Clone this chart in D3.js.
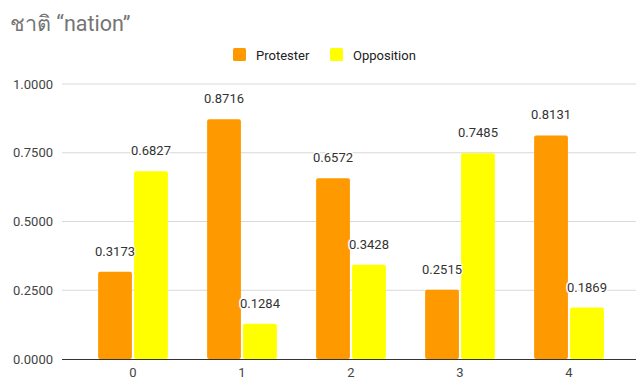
<!DOCTYPE html>
<html>
<head>
<meta charset="utf-8">
<script src="https://cdn.jsdelivr.net/npm/d3@7"></script>
<style>
  html, body { margin: 0; padding: 0; background: #fff; }
  svg { display: block; font-family: Roboto, "Noto Sans", Arial, sans-serif; }
</style>
</head>
<body>
<svg id="chart" width="636" height="380"></svg>
<script>
// Share of "nation" mentions by topic cluster
const categories = ["0", "1", "2", "3", "4"];
const seriesNames = ["Protester", "Opposition"];
const protester = [0.3173, 0.8716, 0.6572, 0.2515, 0.8131];
const opposition = [0.6827, 0.1284, 0.3428, 0.7485, 0.1869];
const yTicks = [0, 0.25, 0.5, 0.75, 1.0];
const colors = ["#ff9900", "#ffff00"];

const svg = d3.select("#chart");
const W = 636, H = 380;
const plot = { left: 78.5, right: 623.5, top: 84, bottom: 359 };

const rows = categories.map((c, i) => ({ cat: c, values: [protester[i], opposition[i]] }));

const x = d3.scaleBand().domain(categories).range([plot.left, plot.right]).paddingInner(0.36).paddingOuter(0.18);
const xs = d3.scaleBand().domain(seriesNames).range([0, x.bandwidth()]).paddingInner(0.06);
const y = d3.scaleLinear().domain([0, 1]).range([plot.bottom, plot.top]);

// title
svg.append("text")
  .attr("x", 10).attr("y", 31)
  .attr("font-size", 21.5).attr("fill", "#757575")
  .text("ชาติ “nation”");

// legend
const legend = svg.append("g").attr("font-size", 13).attr("fill", "#222");
const legendItems = [{ x: 233, tx: 256 }, { x: 330, tx: 353 }];
seriesNames.forEach((s, i) => {
  legend.append("rect").attr("x", legendItems[i].x).attr("y", 48).attr("width", 13).attr("height", 13)
    .attr("rx", 1.5).attr("fill", colors[i]);
  legend.append("text").attr("x", legendItems[i].tx).attr("y", 59.5).attr("fill", "#222").text(s);
});

// gridlines and y labels
const yAxis = svg.append("g");
yTicks.forEach(t => {
  if (t !== 0) {
    yAxis.append("line").attr("x1", 62).attr("x2", W).attr("y1", y(t)).attr("y2", y(t))
      .attr("stroke", "#d9d9d9").attr("stroke-width", 1);
  }
  yAxis.append("text").attr("x", 53).attr("y", y(t) + 4.5).attr("text-anchor", "end")
    .attr("font-size", 13).attr("fill", "#444").text(d3.format(".4f")(t));
});

// bars
const groups = svg.append("g").selectAll("g").data(rows).join("g")
  .attr("transform", d => `translate(${x(d.cat)},0)`);
groups.selectAll("rect").data(d => d.values.map((v, i) => ({ key: seriesNames[i], v, i }))).join("rect")
  .attr("x", d => xs(d.key)).attr("width", xs.bandwidth())
  .attr("y", d => y(d.v)).attr("height", d => y(0) - y(d.v))
  .attr("rx", 2).attr("fill", d => colors[d.i]);

// baseline
svg.append("line").attr("x1", 62).attr("x2", W).attr("y1", y(0) + 0.5).attr("y2", y(0) + 0.5)
  .attr("stroke", "#333").attr("stroke-width", 1);

// value labels
groups.selectAll("text.val").data(d => d.values.map((v, i) => ({ key: seriesNames[i], v, i }))).join("text")
  .attr("class", "val")
  .attr("x", d => xs(d.key) + xs.bandwidth() / 2)
  .attr("y", d => y(d.v) - 16)
  .attr("text-anchor", "middle").attr("font-size", 13).attr("fill", "#333")
  .attr("stroke", "#fff").attr("stroke-width", 3).attr("paint-order", "stroke").attr("stroke-linejoin", "round")
  .text(d => d3.format(".4f")(d.v));

// x labels
svg.append("g").selectAll("text").data(categories).join("text")
  .attr("x", d => x(d) + x.bandwidth() / 2).attr("y", 377)
  .attr("text-anchor", "middle").attr("font-size", 13).attr("fill", "#444").text(d => d);
</script>
</body>
</html>
